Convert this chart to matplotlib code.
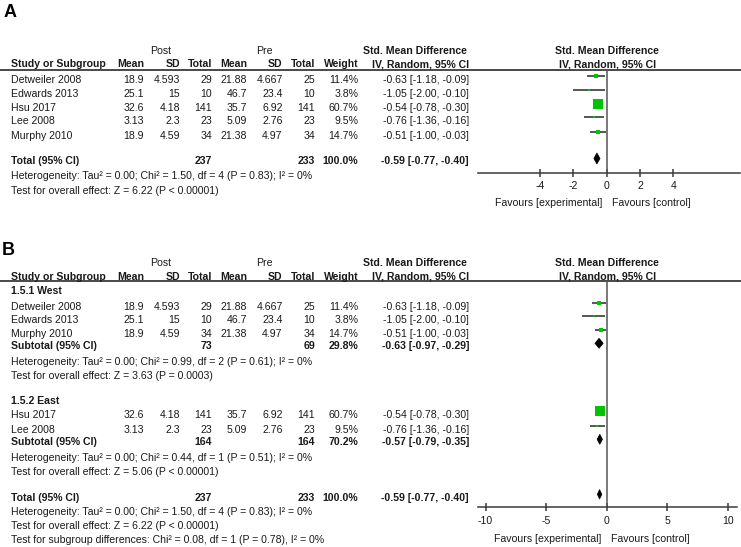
import matplotlib
matplotlib.use('Agg')
import matplotlib.pyplot as plt
from matplotlib.patches import Polygon

plt.rcParams['font.family'] = ['Liberation Sans', 'DejaVu Sans']
plt.rcParams['axes.unicode_minus'] = False

# ---------------- data ----------------
studies = ["Detweiler 2008", "Edwards 2013", "Hsu 2017", "Lee 2008", "Murphy 2010"]
post_mean = [18.9, 25.1, 32.6, 3.13, 18.9]
post_sd = [4.593, 15, 4.18, 2.3, 4.59]
post_n = [29, 10, 141, 23, 34]
pre_mean = [21.88, 46.7, 35.7, 5.09, 21.38]
pre_sd = [4.667, 23.4, 6.92, 2.76, 4.97]
pre_n = [25, 10, 141, 23, 34]
weight = [11.4, 3.8, 60.7, 9.5, 14.7]
smd = [-0.63, -1.05, -0.54, -0.76, -0.51]
ci_lo = [-1.18, -2.00, -0.78, -1.36, -1.00]
ci_hi = [-0.09, -0.10, -0.30, -0.16, -0.03]

subgroups = ["1.5.1 West", "1.5.2 East"]
subgroup_members = [[0, 1, 4], [2, 3]]
sub_post_n = [73, 164]
sub_pre_n = [69, 164]
sub_weight = [29.8, 70.2]
sub_smd = [-0.63, -0.57]
sub_lo = [-0.97, -0.79]
sub_hi = [-0.29, -0.35]
sub_het = ["Heterogeneity: Tau\u00b2 = 0.00; Chi\u00b2 = 0.99, df = 2 (P = 0.61); I\u00b2 = 0%",
           "Heterogeneity: Tau\u00b2 = 0.00; Chi\u00b2 = 0.44, df = 1 (P = 0.51); I\u00b2 = 0%"]
sub_test = ["Test for overall effect: Z = 3.63 (P = 0.0003)",
            "Test for overall effect: Z = 5.06 (P < 0.00001)"]

tot_post_n = 237
tot_pre_n = 233
tot_weight = 100.0
tot_smd = -0.59
tot_lo = -0.77
tot_hi = -0.40
tot_het = "Heterogeneity: Tau\u00b2 = 0.00; Chi\u00b2 = 1.50, df = 4 (P = 0.83); I\u00b2 = 0%"
tot_test = "Test for overall effect: Z = 6.22 (P < 0.00001)"
subgroup_test = "Test for subgroup differences: Chi\u00b2 = 0.08, df = 1 (P = 0.78), I\u00b2 = 0%"

ticks_A = [-4, -2, 0, 2, 4]
ticks_B = [-10, -5, 0, 5, 10]

# ---------------- layout ----------------
W, H = 741, 547
FS = 7.6
TXT = '#1a1a1a'
LINE = '#3a3a3a'
GREEN = '#00c400'

fig = plt.figure(figsize=(W / 100, H / 100), dpi=100)
tax = fig.add_axes([0, 0, 1, 1])
tax.set_xlim(0, W)
tax.set_ylim(H, 0)
tax.axis('off')

X_STUDY = 11
COLS = [144, 180, 212, 247.3, 282.7, 315.3, 358.3]
X_CI = 469
MK_OFF = -3.2


def t(x, y, s, ha='left', bold=False, size=FS):
    tax.text(x, y + 3.9, s, ha=ha, va='baseline', fontsize=size, color=TXT,
             fontweight='bold' if bold else 'normal')


def fmt(v):
    return f"{v:g}"


def header(y_post, y_hdr, y_line):
    t(161, y_post, "Post", ha='center')
    t(264.3, y_post, "Pre", ha='center')
    t(414.5, y_post, "Std. Mean Difference", ha='center', bold=True)
    t(607.3, y_post, "Std. Mean Difference", ha='center', bold=True)
    t(X_STUDY, y_hdr, "Study or Subgroup", bold=True)
    for x, s in zip(COLS, ["Mean", "SD", "Total", "Mean", "SD", "Total", "Weight"]):
        t(x, y_hdr, s, ha='right', bold=True)
    t(X_CI, y_hdr, "IV, Random, 95% CI", ha='right', bold=True)
    t(607.3, y_hdr, "IV, Random, 95% CI", ha='center', bold=True)
    tax.plot([0, W], [y_line, y_line], color=LINE, lw=1.3, solid_capstyle='butt')


def study_row(i, y):
    t(X_STUDY, y, studies[i])
    vals = [fmt(post_mean[i]), fmt(post_sd[i]), str(post_n[i]),
            fmt(pre_mean[i]), fmt(pre_sd[i]), str(pre_n[i]), f"{weight[i]:.1f}%"]
    for x, s in zip(COLS, vals):
        t(x, y, s, ha='right')
    t(X_CI, y, f"{smd[i]:.2f} [{ci_lo[i]:.2f}, {ci_hi[i]:.2f}]", ha='right')


def total_row(label, y, n1, n2, w, e, lo, hi):
    t(X_STUDY, y, label, bold=True)
    t(COLS[2], y, str(n1), ha='right', bold=True)
    t(COLS[5], y, str(n2), ha='right', bold=True)
    t(COLS[6], y, f"{w:.1f}%", ha='right', bold=True)
    t(X_CI, y, f"{e:.2f} [{lo:.2f}, {hi:.2f}]", ha='right', bold=True)


def make_forest(x0, x1, y_top, y_axis, zero_px, px_per_unit, ticks, axis_right_px):
    ax = fig.add_axes([x0 / W, 1 - y_axis / H, (x1 - x0) / W, (y_axis - y_top) / H])
    ax.set_xlim((x0 - zero_px) / px_per_unit, (x1 - zero_px) / px_per_unit)
    ax.set_ylim(y_axis, y_top)
    ax.patch.set_alpha(0)
    for s in ['top', 'left', 'right']:
        ax.spines[s].set_visible(False)
    ax.spines['bottom'].set_color(LINE)
    ax.spines['bottom'].set_linewidth(1.1)
    ax.spines['bottom'].set_bounds((x0 - zero_px) / px_per_unit, (axis_right_px - zero_px) / px_per_unit)
    ax.set_yticks([])
    ax.set_xticks(ticks)
    ax.set_xticklabels([str(v) for v in ticks])
    ax.tick_params(axis='x', direction='inout', length=6, width=1.1, color=LINE,
                   labelsize=FS, labelcolor=TXT, pad=3.2)
    ax.axvline(0, color='#555555', lw=1.1)
    return ax


def square(ax, i, y):
    ax.plot([ci_lo[i], ci_hi[i]], [y, y], color=LINE, lw=1.2, solid_capstyle='butt', zorder=2)
    side = max(2.0, 10.3 * (weight[i] / max(weight)) ** 0.7)
    ax.plot([smd[i]], [y], marker='s', ms=side * 0.72, color=GREEN, mew=0, ls='none', zorder=3)


def diamond(ax, e, lo, hi, y, h=10.5):
    ax.add_patch(Polygon([(lo, y), (e, y - h / 2), (hi, y), (e, y + h / 2)],
                         closed=True, facecolor='black', edgecolor='black', lw=0.5, zorder=3))


# ================= Panel A =================
tax.text(4, 17, "A", fontsize=13, fontweight='bold', color='black', va='baseline')
header(50.5, 63.5, 69.5)
rows_A = [79, 93, 107, 120.5, 135]
for i, y in enumerate(rows_A):
    study_row(i, y)
y_tot_A = 160.5
total_row("Total (95% CI)", y_tot_A, tot_post_n, tot_pre_n, tot_weight, tot_smd, tot_lo, tot_hi)
t(X_STUDY, 175.5, tot_het)
t(X_STUDY, 190, tot_test)

axA = make_forest(478, 741, 69.5, 172.7, 606.7, 16.67, ticks_A, 740)
for i, y in enumerate(rows_A):
    square(axA, i, y + MK_OFF)
diamond(axA, tot_smd, tot_lo, tot_hi, y_tot_A - 2, h=11)
t(602.5, 202, "Favours [experimental]", ha='right')
t(611.7, 202, "Favours [control]", ha='left')

# ================= Panel B =================
tax.text(2, 255, "B", fontsize=13, fontweight='bold', color='black', va='baseline')
header(262.5, 276, 281)
group_label_y = [289.7, 400]
group_rows = [[306, 319.5, 333.3], [413.8, 429]]
sub_y = [345.5, 441.5]
het_y = [360.8, 457.5]
test_y = [375, 471]

axB = make_forest(478, 741, 281, 507.3, 606.7, 12.115, ticks_B, 736.7)
for g in range(2):
    t(X_STUDY, group_label_y[g], subgroups[g], bold=True)
    for i, y in zip(subgroup_members[g], group_rows[g]):
        study_row(i, y)
        square(axB, i, y + MK_OFF)
    total_row("Subtotal (95% CI)", sub_y[g], sub_post_n[g], sub_pre_n[g], sub_weight[g],
              sub_smd[g], sub_lo[g], sub_hi[g])
    diamond(axB, sub_smd[g], sub_lo[g], sub_hi[g], sub_y[g] - 2.2, h=10)
    t(X_STUDY, het_y[g], sub_het[g])
    t(X_STUDY, test_y[g], sub_test[g])

y_tot_B = 496.7
total_row("Total (95% CI)", y_tot_B, tot_post_n, tot_pre_n, tot_weight, tot_smd, tot_lo, tot_hi)
diamond(axB, tot_smd, tot_lo, tot_hi, y_tot_B - 2.4, h=9.5)
t(X_STUDY, 510.8, tot_het)
t(X_STUDY, 524.8, tot_test)
t(X_STUDY, 539.5, subgroup_test)
t(601.7, 538, "Favours [experimental]", ha='right')
t(610.7, 538, "Favours [control]", ha='left')

fig.savefig('out.png', dpi=100)
